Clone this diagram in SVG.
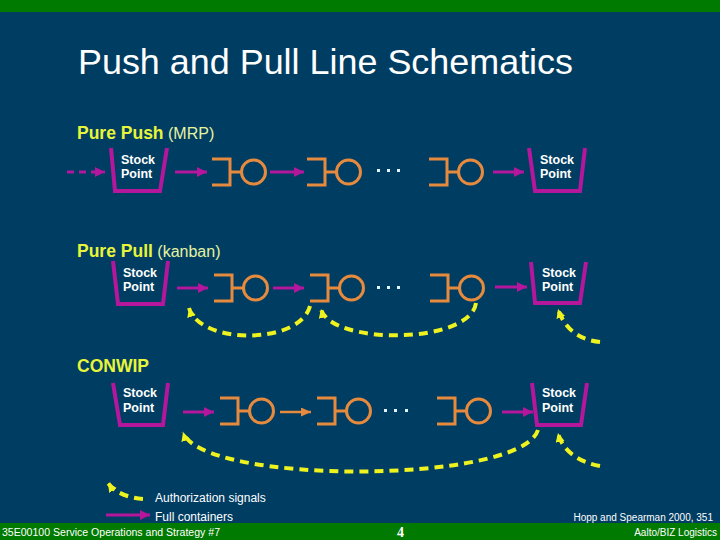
<svg xmlns="http://www.w3.org/2000/svg" width="720" height="540" viewBox="0 0 720 540">
<style>
.sp{fill:none;stroke:#b4179c;stroke-width:4;stroke-linejoin:miter}
.st{fill:none;stroke:#e68a3e;stroke-width:3}
.mg{fill:none;stroke:#b4179c;stroke-width:3}
.or{fill:none;stroke:#e68a3e;stroke-width:2.5}
.yl{fill:none;stroke:#eef21e;stroke-width:4;stroke-dasharray:9 6}
.spt{font-family:"Liberation Sans",Arial,sans-serif;font-weight:bold;font-size:12.5px;fill:#ffffff}
.lbl{font-family:"Liberation Sans",Arial,sans-serif;fill:#e8f53a}
.dot{fill:#dff4ff}
.wt{font-family:"Liberation Sans",Arial,sans-serif;fill:#ffffff}
</style>
<defs>
<marker id="am" markerUnits="userSpaceOnUse" markerWidth="11" markerHeight="11" refX="10" refY="5" orient="auto"><path d="M0,0 L10,5 L0,10 z" fill="#b4179c"/></marker>
<marker id="ao" markerUnits="userSpaceOnUse" markerWidth="11" markerHeight="11" refX="10" refY="4.5" orient="auto"><path d="M0,0 L10,4.5 L0,9 z" fill="#e68a3e"/></marker>
<marker id="ay" markerUnits="userSpaceOnUse" markerWidth="11" markerHeight="11" refX="9" refY="4.5" orient="auto"><path d="M0,0 L9,4.5 L0,9 z" fill="#eef21e"/></marker>
<g id="st"><path class="st" d="M-18,-13 H0 V13 H-18 M0,0 H11"/><circle class="st" cx="23.5" cy="0" r="12"/></g>
</defs>
<rect width="720" height="540" fill="#003d62"/>
<rect width="720" height="12" fill="#007a00"/>
<rect y="523" width="720" height="17" fill="#007a00"/>
<text class="wt" x="78" y="74" font-size="35" textLength="495" lengthAdjust="spacingAndGlyphs">Push and Pull Line Schematics</text>

<text class="lbl" x="77" y="139"><tspan font-weight="bold" font-size="17.5">Pure Push</tspan><tspan font-size="16" fill="#e6f3a0"> (MRP)</tspan></text>
<text class="lbl" x="77" y="257"><tspan font-weight="bold" font-size="17.5">Pure Pull</tspan><tspan font-size="16" fill="#e6f3a0"> (kanban)</tspan></text>
<text class="lbl" x="77" y="372" font-weight="bold" font-size="17.5">CONWIP</text>

<g id="r1-stock-in"><polyline class="sp" points="111,148 115,191 160,191 167,148"/><text class="spt" x="121" y="164">Stock</text><text class="spt" x="121" y="178">Point</text></g>
<g id="r1-s1"><use href="#st" transform="translate(230,172)"/></g>
<g id="r1-s2"><use href="#st" transform="translate(325,172)"/></g>
<g id="r1-dots"><rect class="dot" x="377" y="169" width="3" height="3"/><rect class="dot" x="387" y="169" width="3" height="3"/><rect class="dot" x="397" y="169" width="3" height="3"/></g>
<g id="r1-s3"><use href="#st" transform="translate(447,172)"/></g>
<g id="r1-stock-out"><polyline class="sp" points="529,148 535,191 580,191 585,148"/><text class="spt" x="540" y="164">Stock</text><text class="spt" x="540" y="178">Point</text></g>

<g id="r2-stock-in"><polyline class="sp" points="113,261 118,304 163,304 168,261"/><text class="spt" x="123" y="277">Stock</text><text class="spt" x="123" y="291">Point</text></g>
<g id="r2-s1"><use href="#st" transform="translate(232,288)"/></g>
<g id="r2-s2"><use href="#st" transform="translate(328,288)"/></g>
<g id="r2-dots"><rect class="dot" x="377" y="286" width="3" height="3"/><rect class="dot" x="387" y="286" width="3" height="3"/><rect class="dot" x="397" y="286" width="3" height="3"/></g>
<g id="r2-s3"><use href="#st" transform="translate(448,288)"/></g>
<g id="r2-stock-out"><polyline class="sp" points="531,262 535,303 580,303 586,262"/><text class="spt" x="542" y="277">Stock</text><text class="spt" x="542" y="291">Point</text></g>

<g id="r3-stock-in"><polyline class="sp" points="113,383 120,425 163,425 168,383"/><text class="spt" x="123" y="397">Stock</text><text class="spt" x="123" y="412">Point</text></g>
<g id="r3-s1"><use href="#st" transform="translate(238,411)"/></g>
<g id="r3-s2"><use href="#st" transform="translate(335,411)"/></g>
<g id="r3-dots"><rect class="dot" x="384" y="409" width="3" height="3"/><rect class="dot" x="394" y="409" width="3" height="3"/><rect class="dot" x="405" y="409" width="3" height="3"/></g>
<g id="r3-s3"><use href="#st" transform="translate(455,411)"/></g>
<g id="r3-stock-out"><polyline class="sp" points="532,383 537,425 581,425 587,383"/><text class="spt" x="542" y="397">Stock</text><text class="spt" x="542" y="412">Point</text></g>

<g id="connectors">
<path class="mg" d="M67,172 H105" stroke-dasharray="7 5" marker-end="url(#am)"/>
<path class="mg" d="M175,172 H207" marker-end="url(#am)"/>
<path class="mg" d="M270,172 H304" marker-end="url(#am)"/>
<path class="mg" d="M493,172 H524" marker-end="url(#am)"/>
<path class="mg" d="M177,288 H208" marker-end="url(#am)"/>
<path class="mg" d="M273,288 H304" marker-end="url(#am)"/>
<path class="mg" d="M495,287 H527" marker-end="url(#am)"/>
<path class="mg" d="M183,412 H214" marker-end="url(#am)"/>
<path class="or" d="M280,412 H311" marker-end="url(#ao)"/>
<path class="mg" d="M502,412 H533" marker-end="url(#am)"/>
<path class="yl" d="M310,306 C300,345 200,345 189,308" marker-end="url(#ay)"/>
<path class="yl" d="M476,303 C470,345 330,345 321,309" marker-end="url(#ay)"/>
<path class="yl" d="M600,342 C580,340 565,330 558,309" marker-end="url(#ay)"/>
<path class="yl" d="M538,430 C520,485 200,485 183,432" marker-end="url(#ay)"/>
<path class="yl" d="M600,466 C578,462 562,450 558,433" marker-end="url(#ay)"/>
<path class="yl" d="M143,499 C128,498 114,492 108,483" marker-end="url(#ay)"/>
<path class="mg" d="M106,515 H150" marker-end="url(#am)"/>
</g>

<text class="wt" x="155" y="502" font-size="12">Authorization signals</text>
<text class="wt" x="155" y="521" font-size="12">Full containers</text>
<text class="wt" x="713" y="521" font-size="10" text-anchor="end">Hopp and Spearman 2000, 351</text>
<text class="wt" x="2" y="536" font-size="10" textLength="218" lengthAdjust="spacingAndGlyphs">35E00100 Service Operations and Strategy #7</text>
<text x="397" y="537" font-family="'Liberation Serif',serif" font-weight="bold" font-size="14" fill="#ffffff">4</text>
<text class="wt" x="717" y="536" font-size="10" text-anchor="end">Aalto/BIZ Logistics</text>
</svg>
